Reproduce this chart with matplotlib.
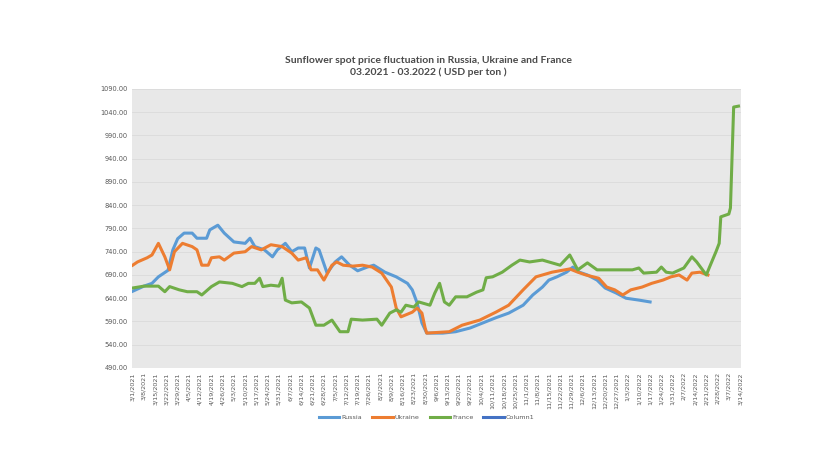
import matplotlib
matplotlib.use("Agg")
import matplotlib.pyplot as plt
import numpy as np
import pandas as pd

start = pd.Timestamp("2021-03-01")

# day offsets from 3/1/2021 and prices (USD per ton)
russia_days = [0, 7, 12, 16, 22, 25, 28, 32, 37, 40, 46, 48, 53, 57, 63, 70, 73, 76, 82, 87,
               90, 95, 99, 103, 107, 110, 114, 116, 121, 126, 130, 135, 140, 146, 150, 157,
               164, 171, 174, 177, 180, 183, 193, 201, 210, 218, 226, 234, 243, 249, 255,
               259, 264, 270, 274, 278, 283, 289, 294, 301, 307, 315, 322]
russia_vals = [655, 666, 672, 686, 700, 744, 768, 780, 780, 769, 769, 787, 797, 780, 761, 758,
               769, 751, 744, 729, 744, 758, 740, 748, 748, 705, 748, 744, 694, 718, 729, 711,
               699, 707, 711, 696, 686, 672, 658, 630, 587, 565, 565, 568, 576, 587, 598, 608,
               625, 647, 664, 679, 686, 696, 707, 696, 690, 679, 662, 651, 640, 636, 632]

ukraine_days = [0, 3, 9, 12, 16, 20, 23, 26, 31, 37, 40, 43, 47, 49, 54, 57, 63, 70, 74, 80,
                86, 93, 99, 103, 108, 111, 115, 119, 124, 127, 131, 137, 143, 149, 155, 161,
                164, 167, 174, 177, 180, 182, 183, 197, 205, 216, 226, 234, 243, 251, 259,
                261, 272, 277, 282, 290, 295, 300, 305, 310, 317, 323, 330, 335, 340, 345,
                348, 353, 358]
ukraine_vals = [711, 718, 727, 733, 758, 729, 701, 740, 758, 751, 744, 711, 711, 727, 729, 722,
                737, 740, 751, 744, 755, 751, 737, 722, 727, 701, 701, 679, 711, 718, 711, 709,
                711, 707, 694, 664, 619, 600, 610, 619, 608, 576, 565, 568, 582, 593, 610, 625,
                658, 686, 694, 696, 703, 696, 690, 683, 664, 658, 647, 658, 664, 672, 679, 686,
                690, 679, 694, 696, 690]

france_days = [0, 7, 16, 20, 23, 29, 34, 40, 43, 49, 54, 62, 68, 72, 76, 79, 81, 86, 91, 93,
               95, 99, 105, 110, 114, 119, 124, 129, 134, 136, 143, 152, 155, 160, 164, 167,
               170, 175, 178, 185, 188, 191, 194, 197, 201, 208, 214, 218, 220, 224, 230,
               236, 241, 247, 255, 261, 266, 272, 277, 283, 289, 303, 311, 315, 318, 326,
               329, 332, 336, 343, 348, 351, 357, 359, 363, 365, 366, 371, 372, 374, 377]
france_vals = [662, 666, 666, 654, 665, 658, 654, 654, 647, 665, 675, 672, 665, 672, 672, 683,
               665, 668, 666, 683, 636, 630, 632, 619, 582, 582, 593, 568, 568, 595, 593, 595,
               582, 608, 615, 610, 625, 621, 632, 625, 651, 672, 632, 625, 643, 643, 653, 658,
               684, 686, 696, 711, 722, 718, 722, 716, 711, 733, 701, 716, 701, 701, 701, 705,
               694, 696, 707, 696, 694, 705, 729, 718, 690, 707, 740, 758, 815, 821, 834, 1051,
               1053]

series = [
    ("Russia", russia_days, russia_vals, "#5B9BD5"),
    ("Ukraine", ukraine_days, ukraine_vals, "#ED7D31"),
    ("France", france_days, france_vals, "#70AD47"),
]

fig = plt.figure(figsize=(8.4, 4.73), dpi=100)
ax = fig.add_axes([0.157, 0.222, 0.725, 0.590])
ax.set_facecolor("#E8E8E8")

for name, days, vals, col in series:
    dates = start + pd.to_timedelta(days, unit="D")
    ax.plot(dates, vals, color=col, lw=2.2, label=name, solid_joinstyle="round")
# empty series that still shows in the legend
ax.plot([], [], color="#4472C4", lw=2.2, label="Column1")

ticks = pd.date_range("2021-03-01", "2022-03-14", freq="7D")
ax.set_xticks(ticks)
ax.set_xticklabels([f"{d.month}/{d.day}/{d.year}" for d in ticks], rotation=90,
                   fontsize=4.6, color="#595959")
ax.set_xlim(start - pd.Timedelta(days=0.5), pd.Timestamp("2022-03-14") + pd.Timedelta(days=0.5))

yt = np.arange(490, 1091, 50)
ax.set_yticks(yt)
ax.set_yticklabels([f"{v:.2f}" for v in yt], fontsize=4.8, color="#595959")
ax.set_ylim(490, 1090)

ax.grid(axis="y", color="#DADADA", lw=0.6)
ax.set_axisbelow(True)
ax.tick_params(length=0, pad=3)
for s in ax.spines.values():
    s.set_visible(False)

fig.text(0.510, 0.859, "Sunflower spot price fluctuation in Russia, Ukraine and France\n"
         "03.2021 - 03.2022 ( USD per ton )", ha="center", va="center",
         fontsize=7.5, fontweight="bold", color="#4A4A4A", family="Lato", linespacing=1.35)

fig.legend(loc="center", bbox_to_anchor=(0.508, 0.118), ncol=4, frameon=False,
           fontsize=4.6, handlelength=3.2, handletextpad=0.3, columnspacing=1.6,
           labelcolor="#595959")

fig.savefig("out.png", dpi=100)
